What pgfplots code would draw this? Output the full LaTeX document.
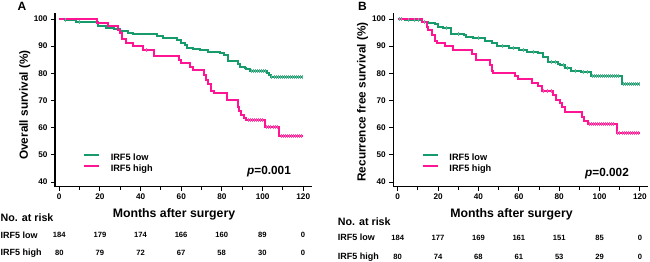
\documentclass[border=0pt]{standalone}
\usepackage{fontspec}
\setmainfont{Liberation Sans}
\usepackage{pgfplots}
\pgfplotsset{compat=1.18}
\definecolor{lowg}{RGB}{24,155,107}
\definecolor{highp}{RGB}{255,20,147}
\pgfplotsset{
  kmaxis/.style={
    scale only axis,
    anchor=south west,
    height=173.7pt,
    ymin=38.27, ymax=102.2,
    axis x line=bottom, axis y line=left,
    axis line style={-, line width=1.2pt},
    xtick={0,20,...,120}, minor xtick={10,30,...,110},
    ytick={40,50,...,100},
    tick align=outside,
    major tick length=4pt, minor tick length=3pt,
    every tick/.style={black, line width=0.9pt},
    tick label style={font=\bfseries\fontsize{8.2}{9}\selectfont},
    /pgf/number format/assume math mode=true,
    ylabel style={font=\bfseries\fontsize{11.8}{13}\selectfont, anchor=center},
    legend cell align=left,
    legend style={draw=none, fill=none, inner sep=0pt, column sep=9pt,
      anchor=north west,
      nodes={font=\bfseries\fontsize{9.2}{10}\selectfont, inner sep=1.35pt, text height=6.5pt, text depth=1.8pt}},
    legend image code/.code={\draw[#1, line width=2.2pt] (0pt,3pt) -- (15pt,3pt);},
  },
  km/.style={const plot, line width=2pt},
  cens/.style={only marks, mark=|, mark size=2pt, mark options={line width=0.5pt}, forget plot},
}
\begin{document}
\begin{tikzpicture}
\useasboundingbox (0pt,0pt) rectangle (650pt,262pt);
% ---------- Panel A ----------
\begin{axis}[kmaxis, at={(55pt,75.3pt)}, width=257pt, xmin=-2.1, xmax=124.3,
  ylabel={Overall survival (\%)},
  ylabel style={at={(axis description cs:-0.117,0.47)}},
  legend style={at={(axis description cs:0.109,0.197)}}]
\addplot[km, lowg] coordinates {(0,100) (3,99.5) (8,99) (19,97.5) (23,96.8) (27,96.2) (30,95.5) (34,95) (36.5,94.5) (48,93.8) (51,93.1) (58,92.3) (60,91.2) (62,90.3) (63,89.5) (66,89) (69,88.5) (73,88) (79,87.5) (81,86.7) (83,84.6) (88,83.5) (89,82.5) (91.5,82) (92,81.5) (94,80.9) (102,80) (103,79.2) (104,78.6) (120,78.6)};
\addlegendentry{IRF5 low}
\addplot[km, highp] coordinates {(0,100) (18.4,98.7) (24,97.5) (29,96) (30,95) (31,92.5) (33,91) (36.5,90) (41,88.7) (46.7,86.2) (58.7,85) (60,83.7) (64.4,82.5) (66,81.3) (71,79.5) (72,77.5) (73,76) (74.5,73.5) (76,72.7) (82.5,70.2) (88,67.5) (88.5,66) (89.5,64.5) (91,63.5) (92,62.7) (101.4,60.2) (108,56.8) (120,56.8)};
\addlegendentry{IRF5 high}
\addplot[cens, lowg!70] coordinates {(3,99.5) (10,99) (94.5,80.9) (95.5,80.9) (96.5,80.9) (97.5,80.9) (98.5,80.9) (99.5,80.9) (100.5,80.9) (101.5,80.9) (104.5,78.6) (105.5,78.6) (106.5,78.6) (107.5,78.6) (108.5,78.6) (109.5,78.6) (110.5,78.6) (111.5,78.6) (112.5,78.6) (113.5,78.6) (114.5,78.6) (115.5,78.6) (116.5,78.6) (117.5,78.6) (118.5,78.6) (119.5,78.6)};
\addplot[cens, highp!70] coordinates {(43,88.7) (93,62.7) (94,62.7) (95,62.7) (96,62.7) (97,62.7) (98,62.7) (99,62.7) (100,62.7) (102,60.2) (103,60.2) (104,60.2) (105,60.2) (106,60.2) (107,60.2) (109,56.8) (110,56.8) (111,56.8) (112,56.8) (113,56.8) (114,56.8) (115,56.8) (116,56.8) (117,56.8) (118,56.8) (119,56.8)};
\end{axis}
% ---------- Panel B ----------
\begin{axis}[kmaxis, at={(393.3pt,75.3pt)}, width=254.7pt, xmin=-2.18, xmax=124,
  ylabel={Recurrence free survival (\%)},
  ylabel style={at={(axis description cs:-0.121,0.488)}},
  legend style={at={(axis description cs:0.1115,0.197)}}]
\addplot[km, lowg] coordinates {(0,100) (3.6,99.5) (12,99) (15,98.5) (18.5,98) (20,97) (22.6,96.5) (26.4,94.5) (33,94) (34,93.5) (37.5,93) (43,92) (46.5,91) (49,90) (55,89.5) (60,88.5) (64,88) (69.7,87.3) (72,86) (74.6,84) (79.6,83.5) (80.4,83) (83,82) (86,81) (91,80.5) (96,79) (111,76) (120,76)};
\addlegendentry{IRF5 low}
\addplot[km, highp] coordinates {(0,100) (12,99) (14.4,97) (15.2,96) (17,94) (18.5,92) (19.5,91) (23.4,90) (27.6,88.7) (37,87) (39,85) (45.7,83) (46.5,81) (47.4,80) (58,79) (59.8,78) (66.4,76.5) (69.7,75.5) (71.3,73.5) (77,72) (78.2,70) (80.4,69) (81.2,67.5) (82.9,65.7) (91.5,64) (92.5,62.5) (94.4,61.4) (108.5,58) (120,58)};
\addlegendentry{IRF5 high}
\addplot[cens, lowg!70] coordinates {(1,100) (2,100) (5,99.5) (8,99.5) (10,99.5) (13,99) (24,96.5) (30,94.5) (40,93) (52,90) (57,89.5) (62,88.5) (67,88) (76,84) (78,84) (82,83) (84,82) (88,81) (92,80.5) (94,80.5) (96.5,79) (97.5,79) (98.5,79) (99.5,79) (100.5,79) (101.5,79) (102.5,79) (103.5,79) (104.5,79) (105.5,79) (106.5,79) (107.5,79) (108.5,79) (109.5,79) (111.5,76) (112.5,76) (113.5,76) (114.5,76) (115.5,76) (116.5,76) (117.5,76) (118.5,76) (119.5,76)};
\addplot[cens, highp!70] coordinates {(72,73.5) (74,73.5) (76,73.5) (95,61.4) (96,61.4) (97,61.4) (98,61.4) (99,61.4) (100,61.4) (101,61.4) (102,61.4) (103,61.4) (104,61.4) (105,61.4) (106,61.4) (107,61.4) (109,58) (110,58) (111,58) (112,58) (113,58) (114,58) (115,58) (116,58) (117,58) (118,58) (119,58)};
\end{axis}
% ---------- texts ----------
\node[font=\bfseries\fontsize{12}{13}\selectfont] at (22pt,255.5pt) {A};
\node[font=\bfseries\fontsize{12}{13}\selectfont] at (362.5pt,255.5pt) {B};
\node[font=\bfseries\fontsize{12.3}{13}\selectfont] at (174pt,48pt) {Months after surgery};
\node[font=\bfseries\fontsize{12.3}{13}\selectfont] at (511.5pt,48pt) {Months after surgery};
\node[anchor=west, inner sep=0pt, font=\bfseries\fontsize{11.8}{13}\selectfont] at (247pt,90pt) {\textit{p}=0.001};
\node[anchor=west, inner sep=0pt, font=\bfseries\fontsize{11.8}{13}\selectfont] at (585pt,88.7pt) {\textit{p}=0.002};
\begin{scope}[every node/.style={inner sep=0pt}]
% at-risk table A
\node[anchor=west, font=\bfseries\fontsize{10.7}{12}\selectfont] at (0.5pt,44pt) {No. at risk};
\node[anchor=west, font=\bfseries\fontsize{9}{10}\selectfont] at (0.5pt,27pt) {IRF5 low};
\node[anchor=west, font=\bfseries\fontsize{9}{10}\selectfont] at (0.5pt,9pt) {IRF5 high};
\foreach \v [count=\i from 0] in {184,179,174,166,160,89,0}
  \node[font=\bfseries\fontsize{7.6}{8}\selectfont] at (59.3pt+40.6pt*\i,27pt) {\v};
\foreach \v [count=\i from 0] in {80,79,72,67,58,30,0}
  \node[font=\bfseries\fontsize{7.6}{8}\selectfont] at (59.3pt+40.6pt*\i,9pt) {\v};
% at-risk table B
\node[anchor=west, font=\bfseries\fontsize{10.7}{12}\selectfont] at (337.7pt,40.3pt) {No. at risk};
\node[anchor=west, font=\bfseries\fontsize{9}{10}\selectfont] at (337.7pt,24.3pt) {IRF5 low};
\node[anchor=west, font=\bfseries\fontsize{9}{10}\selectfont] at (337.7pt,5.3pt) {IRF5 high};
\foreach \v [count=\i from 0] in {184,177,169,161,151,85,0}
  \node[font=\bfseries\fontsize{7.6}{8}\selectfont] at (397.7pt+40.38pt*\i,24.3pt) {\v};
\foreach \v [count=\i from 0] in {80,74,68,61,53,29,0}
  \node[font=\bfseries\fontsize{7.6}{8}\selectfont] at (397.7pt+40.38pt*\i,5.3pt) {\v};
\end{scope}
\end{tikzpicture}
\end{document}
